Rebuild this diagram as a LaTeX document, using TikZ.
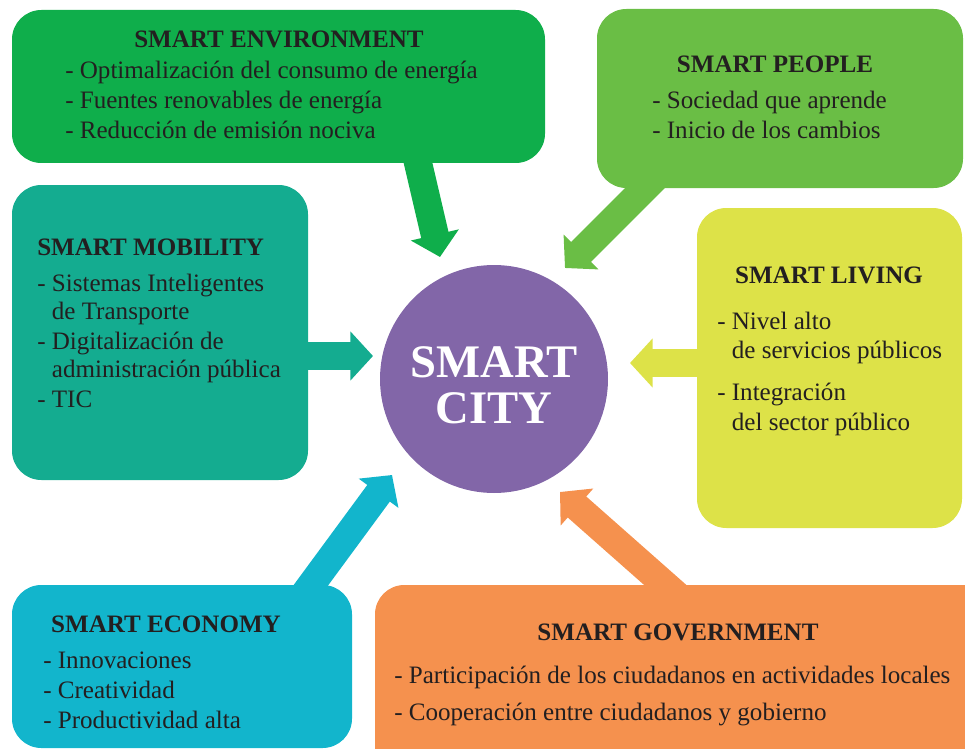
\documentclass[tikz,border=0pt]{standalone}
\usepackage{fontspec}
\setmainfont{Liberation Serif}
\usepackage{tikz}
\usetikzlibrary{arrows.meta,fit,backgrounds}
\definecolor{envgreen}{HTML}{0FAE4B}
\definecolor{peoplegreen}{HTML}{6ABE45}
\definecolor{mobteal}{HTML}{14AC90}
\definecolor{livyellow}{HTML}{DDE248}
\definecolor{ecocyan}{HTML}{12B5CC}
\definecolor{govorange}{HTML}{F5914E}
\definecolor{citypurple}{HTML}{8266A8}
\definecolor{txtgray}{HTML}{231F20}
\tikzstyle{area} = [rectangle, rounded corners=22pt, inner sep=0pt, draw=none]
\tikzstyle{heading} = [anchor=base, inner sep=0pt, text=txtgray,
                       font=\fontsize{18.8}{22}\selectfont\bfseries]
\tikzstyle{itemlist} = [anchor=base west, inner sep=0pt, align=left, text=txtgray,
                        font=\fontsize{18.8}{22.2}\selectfont]
\tikzstyle{bigarrow} = [line width=21pt, -{Triangle[length=17pt,width=36pt]}]

\begin{document}
\begin{tikzpicture}[x=0.75pt, y=-0.75pt]
\useasboundingbox (0,0) rectangle (965,749);

%Boxes
\node[area, fill=envgreen, fit={(12,10) (545,163)}] (env) {};
\node[area, fill=peoplegreen, fit={(597,9) (963,188)}] (people) {};
\node[area, fill=mobteal, fit={(12,185) (308,480)}] (mobility) {};
\node[area, fill=livyellow, fit={(697,208) (962,528)}] (living) {};
\node[area, fill=ecocyan, fit={(12,585) (352,748)}] (economy) {};
\node[area, fill=govorange, fit={(375,585) (995,780)}] (government) {};

%City
\node[circle, fill=citypurple, minimum size=171pt, inner sep=0pt] at (494,379) (city) {};
\node[text=white, font=\fontsize{35}{34.5}\selectfont\bfseries, align=center]
  at ([yshift=-4.5pt]city.center) (citytext) {SMART\\CITY};

%Arrows
\coordinate (envtail) at (415,150);
\coordinate (envtip) at (440,257);
\coordinate (peotail) at (660,173);
\coordinate (peotip) at (565,268);
\coordinate (mobtail) at (290,356);
\coordinate (mobtip) at (373,356);
\coordinate (livtail) at (710,363);
\coordinate (livtip) at (630,363);
\coordinate (ecotail) at (300,600);
\coordinate (ecotip) at (392,475);
\coordinate (govtail) at (680,598);
\coordinate (govtip) at (560,492);
\begin{scope}[on background layer]
\draw[bigarrow, envgreen] (envtail) -- (envtip);
\draw[bigarrow, peoplegreen] (peotail) -- (peotip);
\draw[bigarrow, mobteal] (mobtail) -- (mobtip);
\draw[bigarrow, livyellow] (livtail) -- (livtip);
\draw[bigarrow, ecocyan] (ecotail) -- (ecotip);
\draw[bigarrow, govorange] (govtail) -- (govtip);
\end{scope}

%Texts (lists sit on the baseline of their last line)
\node[heading] at (279,48) (envtitle) {SMART ENVIRONMENT};
\node[itemlist] at (65,138) (envitems) {- Optimalización del consumo de energía\\
  - Fuentes renovables de energía\\- Reducción de emisión nociva};

\node[heading] at (775,73) (peopletitle) {SMART PEOPLE};
\node[itemlist] at (652,138) (peopleitems) {- Sociedad que aprende\\- Inicio de los cambios};

\node[heading, anchor=base west] at (37,255) (mobtitle) {SMART MOBILITY};
\node[itemlist, font=\fontsize{18.8}{21}\selectfont] at (37,407) (mobitems)
  {- Sistemas Inteligentes\\\phantom{- }de Transporte\\[1.5pt]
   - Digitalización de\\\phantom{- }administración pública\\[1.5pt]- TIC};

\node[heading] at (829,283) (livtitle) {SMART LIVING};
\node[itemlist] at (717,430) (livitems)
  {- Nivel alto\\\phantom{- }de servicios públicos\\[9pt]
   - Integración\\\phantom{- }del sector público};

\node[heading] at (166,632) (ecotitle) {SMART ECONOMY};
\node[itemlist] at (43,728) (ecoitems) {- Innovaciones\\- Creatividad\\- Productividad alta};

\node[heading] at (678,640) (govtitle) {SMART GOVERNMENT};
\node[itemlist] at (394,720) (govitems)
  {- Participación de los ciudadanos en actividades locales\\[5.5pt]
   - Cooperación entre ciudadanos y gobierno};
\end{tikzpicture}
\end{document}
